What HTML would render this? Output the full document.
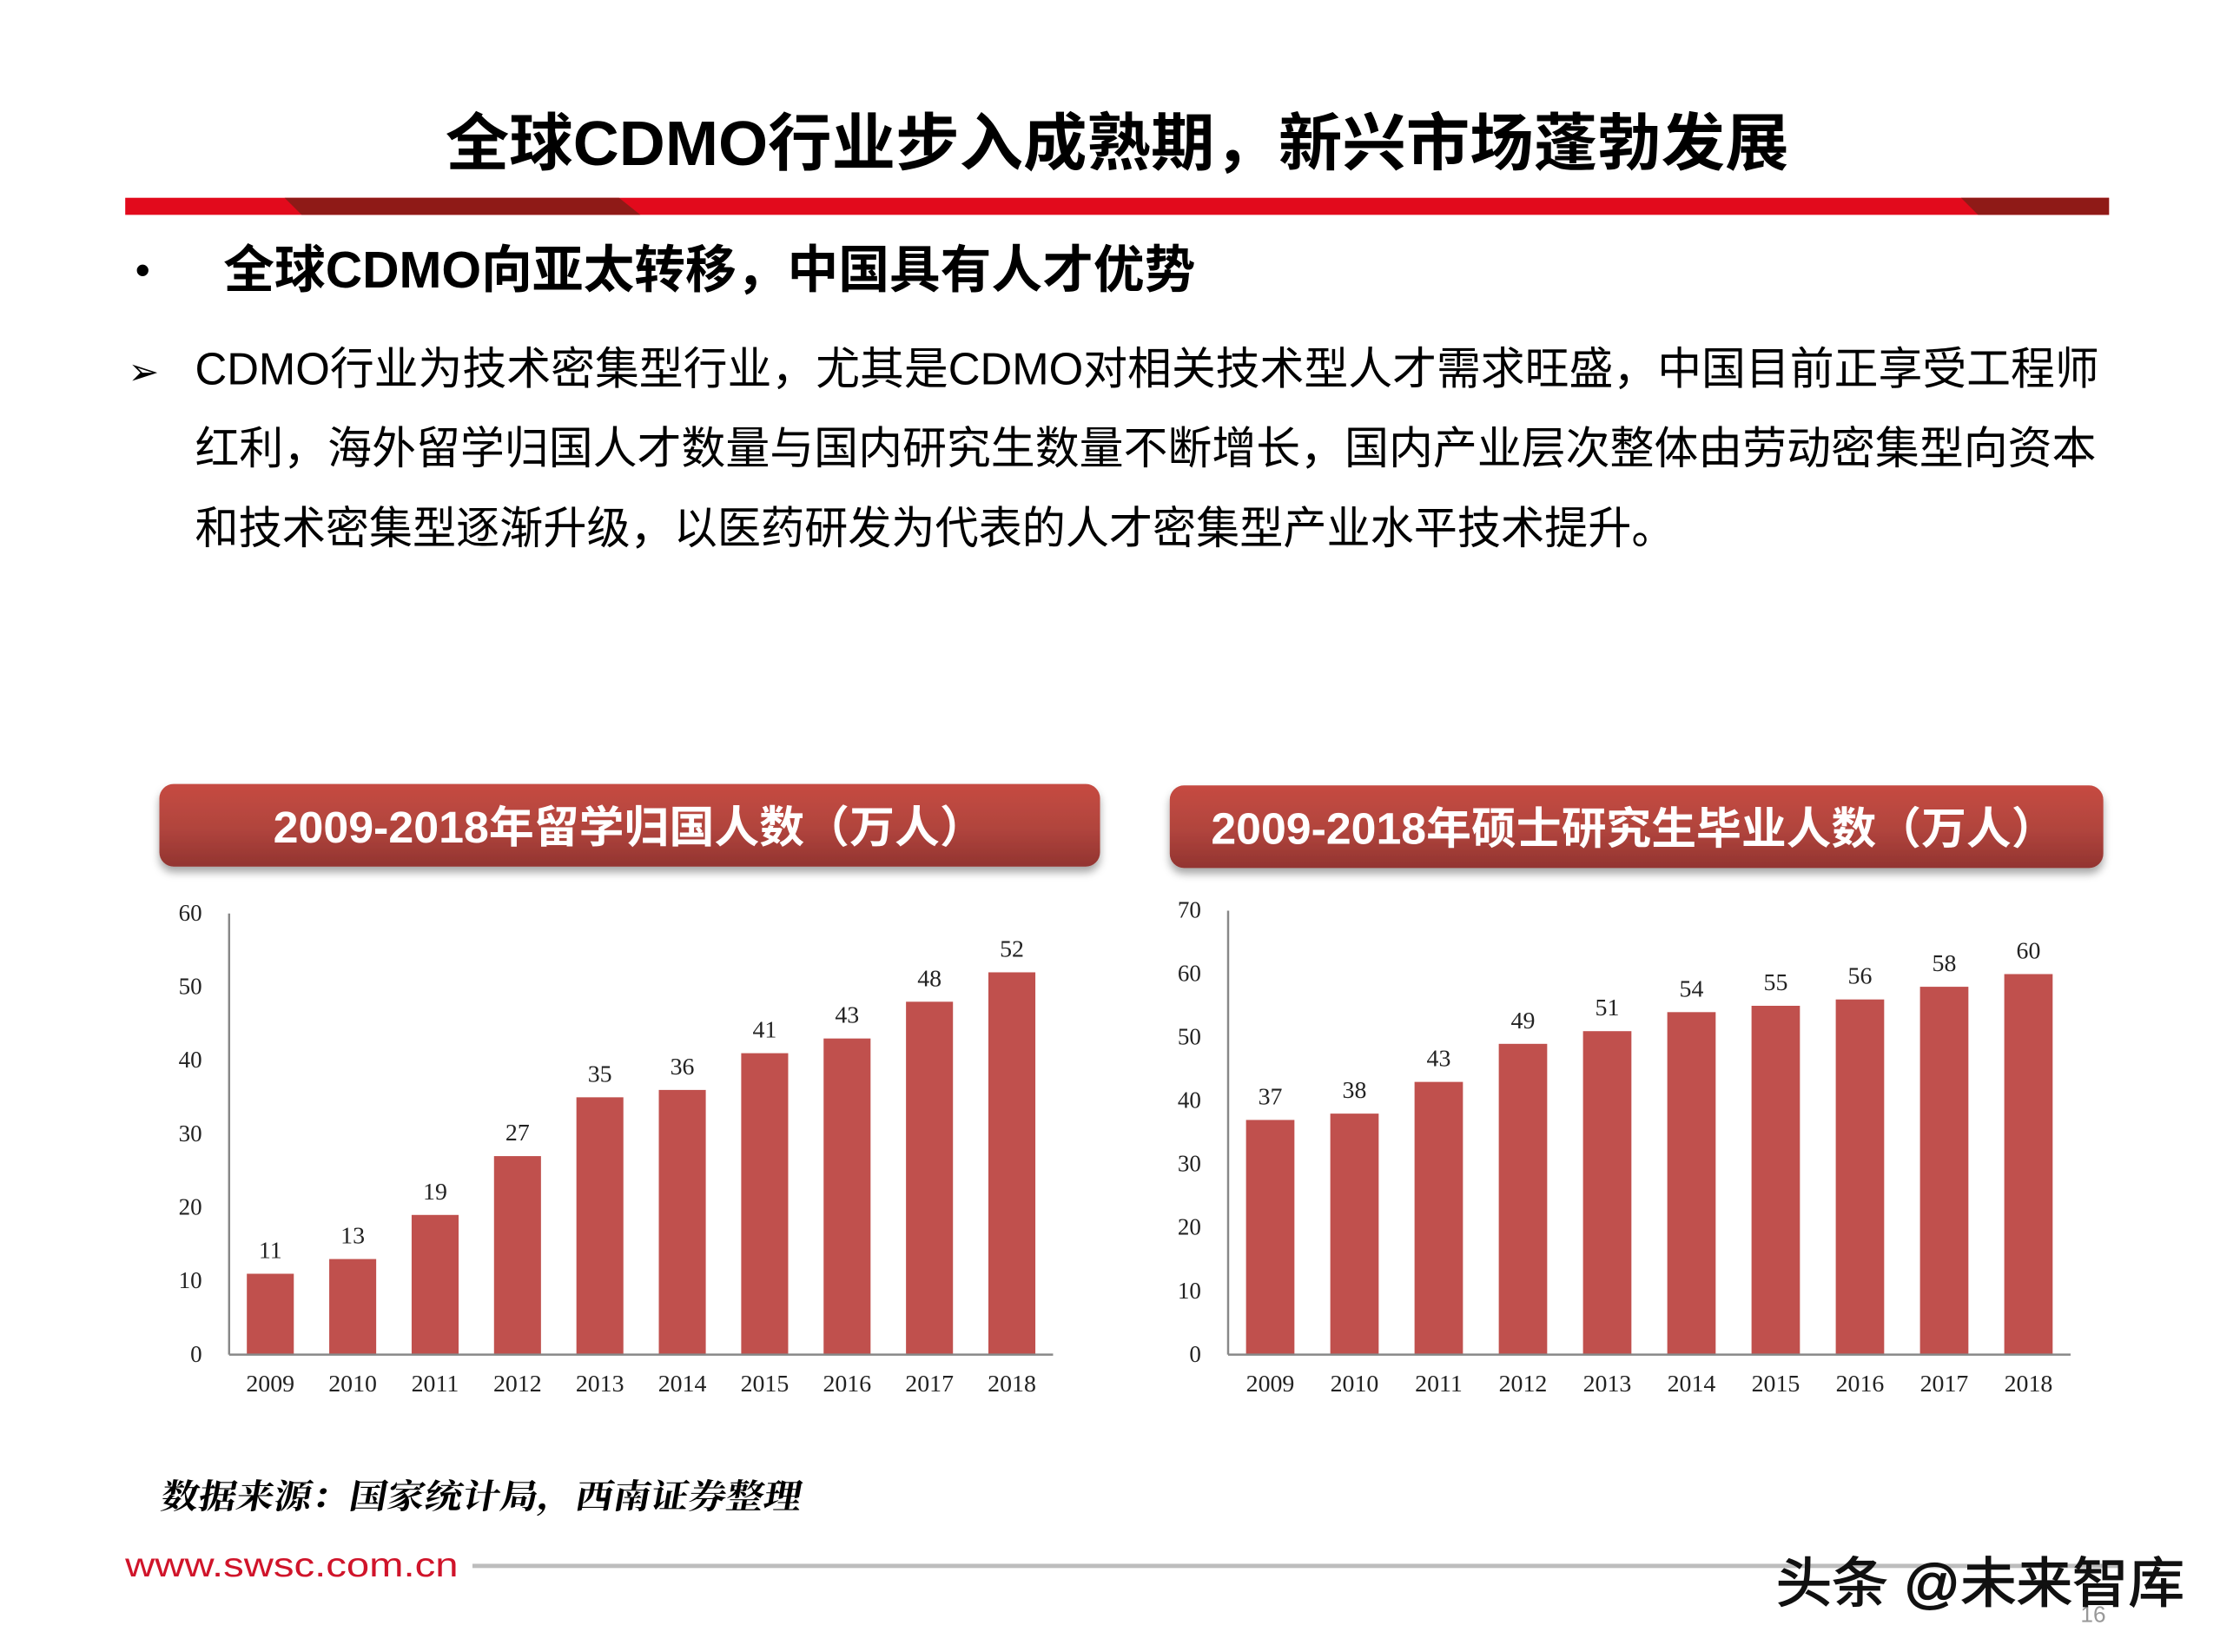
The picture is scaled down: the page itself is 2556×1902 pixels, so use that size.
<!DOCTYPE html>
<html><head><meta charset="utf-8"><style>
html,body{margin:0;padding:0;background:#fff;}
svg{display:block;}
</style></head><body>
<svg id="s" width="2556" height="1902" viewBox="0 0 1560 1161" preserveAspectRatio="none" xmlns="http://www.w3.org/2000/svg">
<defs>
<linearGradient id="hg" x1="0" y1="0" x2="0" y2="1"><stop offset="0" stop-color="#c64b42"/><stop offset="0.55" stop-color="#b0443d"/><stop offset="1" stop-color="#923430"/></linearGradient>
<filter id="sh" x="-5%" y="-20%" width="110%" height="160%"><feDropShadow dx="0" dy="4" stdDeviation="3" flood-color="#000" flood-opacity="0.35"/></filter>
</defs>
<text x="785" y="116" text-anchor="middle" font-family="'Liberation Sans','Noto Sans CJK SC',sans-serif" font-weight="bold" font-size="44" fill="#000" textLength="944" lengthAdjust="spacingAndGlyphs">全球CDMO行业步入成熟期，新兴市场蓬勃发展</text>
<g>
<rect x="88" y="139" width="1394" height="12" fill="#e20a1c"/>
<polygon points="200,139 435,139 450,151 212,151" fill="#8f1a17"/>
<polygon points="1378,139 1482,139 1482,151 1390,151" fill="#8f1a17"/>
</g>
<text x="95" y="200" font-family="'Liberation Sans',sans-serif" font-size="30" fill="#000">•</text>
<text x="157" y="202" font-family="'Liberation Sans','Noto Sans CJK SC',sans-serif" font-weight="bold" font-size="36" fill="#000" textLength="683" lengthAdjust="spacingAndGlyphs">全球CDMO向亚太转移，中国具有人才优势</text>
<text x="90" y="270" font-family="'DejaVu Sans',sans-serif" font-size="26" fill="#000">➢</text>
<g font-family="'Liberation Sans','Noto Sans CJK SC',sans-serif" font-size="31.5" fill="#000">
<text x="137" y="270" textLength="1338" lengthAdjust="spacingAndGlyphs">CDMO行业为技术密集型行业，尤其是CDMO对相关技术型人才需求旺盛，中国目前正享受工程师</text>
<text x="137" y="326" textLength="1336" lengthAdjust="spacingAndGlyphs">红利，海外留学归国人才数量与国内研究生数量不断增长，国内产业层次整体由劳动密集型向资本</text>
<text x="137" y="382" textLength="1040" lengthAdjust="spacingAndGlyphs">和技术密集型逐渐升级，以医药研发为代表的人才密集型产业水平技术提升。</text>
</g>
<g>
<rect x="112" y="551" width="661" height="58" rx="10" fill="url(#hg)" filter="url(#sh)"/>
<text x="442" y="592" text-anchor="middle" font-family="'Liberation Sans','Noto Sans CJK SC',sans-serif" font-weight="bold" font-size="31" fill="#fff" textLength="500" lengthAdjust="spacingAndGlyphs">2009-2018年留学归国人数（万人）</text>
</g>
<g>
<rect x="822" y="552" width="656" height="58" rx="10" fill="url(#hg)" filter="url(#sh)"/>
<text x="1148" y="593" text-anchor="middle" font-family="'Liberation Sans','Noto Sans CJK SC',sans-serif" font-weight="bold" font-size="31" fill="#fff" textLength="594" lengthAdjust="spacingAndGlyphs">2009-2018年硕士研究生毕业人数（万人）</text>
</g>
<g id="c1"></g>
<g id="c2"></g>
<text x="112" y="1060" font-family="'Noto Serif CJK SC','Liberation Serif',serif" font-weight="bold" font-size="24" fill="#000" transform="skewX(-10) translate(187,0)" textLength="450" lengthAdjust="spacingAndGlyphs">数据来源：国家统计局，西南证券整理</text>
<text x="88" y="1108" font-family="'Liberation Sans',sans-serif" font-size="24" fill="#d0142a" textLength="234" lengthAdjust="spacingAndGlyphs">www.swsc.com.cn</text>
<rect x="332" y="1099" width="1160" height="3" fill="#bdbdbd"/>
<text x="1462" y="1140" font-family="'Liberation Sans',sans-serif" font-size="16" fill="#999">16</text>
<text x="1248" y="1126" font-family="'Liberation Sans','Noto Sans CJK SC',sans-serif" font-size="38" fill="#111" stroke="#111" stroke-width="0.8" textLength="287" lengthAdjust="spacingAndGlyphs">头条 @未来智库</text>
</svg>
<script>
const years = ["2009","2010","2011","2012","2013","2014","2015","2016","2017","2018"];
const returneeValues = [11,13,19,27,35,36,41,43,48,52];
const returneeTicks = [0,10,20,30,40,50,60];
const masterValues = [37,38,43,49,51,54,55,56,58,60];
const masterTicks = [0,10,20,30,40,50,60,70];
const NS = "http://www.w3.org/2000/svg";
function mk(tag, attrs, parent){const e=document.createElementNS(NS,tag);for(const k in attrs)e.setAttribute(k,attrs[k]);parent.appendChild(e);return e;}
function draw(g, vals, ticks, box){
  const max = ticks[ticks.length-1];
  const y = v => box.bottom - (v/max)*(box.bottom-box.top);
  const step = (box.right-box.left)/years.length;
  const x = i => box.left + (i+0.5)*step;
  const font = "'Liberation Serif',serif";
  ticks.forEach(t=>{
    const tl = mk('text',{x:box.left-19,y:y(t)+5,'text-anchor':'end','font-family':font,'font-size':16.5,fill:'#222'},g);
    
    
    tl.textContent = t;
  });
  vals.forEach((v,i)=>{
    const r = mk('rect',{x:x(i)-box.bw/2,y:y(v),width:box.bw,height:box.bottom-y(v),fill:'#c0504d'},g);
    
    
    const vl = mk('text',{x:x(i),y:y(v)-11,'text-anchor':'middle','font-family':font,'font-size':17,fill:'#222'},g);
    
    
    vl.textContent = v;
    const xl = mk('text',{x:x(i),y:box.bottom+26,'text-anchor':'middle','font-family':font,'font-size':17,fill:'#222'},g);
    
    
    xl.textContent = years[i];
  });
  const ya = mk('line',{x1:box.left,y1:box.top,x2:box.left,y2:box.bottom,stroke:'#888','stroke-width':1.5},g);
  
  
  const xa = mk('line',{x1:box.left,y1:box.bottom,x2:box.right,y2:box.bottom,stroke:'#888','stroke-width':1.5},g);
  
  
}
draw(document.getElementById('c1'), returneeValues, returneeTicks, {left:161,right:740,top:642,bottom:952,bw:33});
draw(document.getElementById('c2'), masterValues, masterTicks, {left:863,right:1455,top:640,bottom:952,bw:34});
</script>
</body></html>
